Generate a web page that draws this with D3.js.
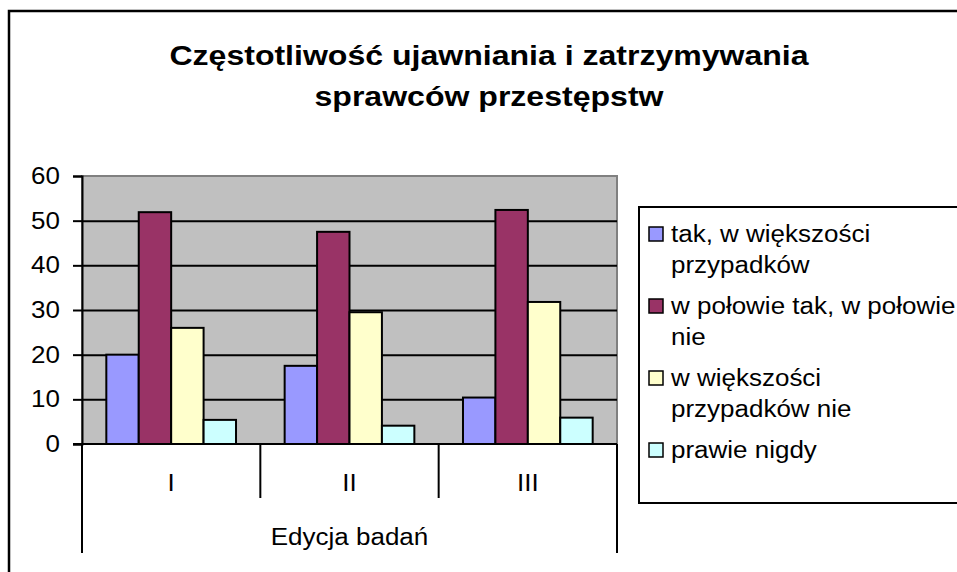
<!DOCTYPE html>
<html lang="pl">
<head>
<meta charset="utf-8">
<title>Częstotliwość ujawniania i zatrzymywania sprawców przestępstw</title>
<script src="https://d3js.org/d3.v7.min.js"></script>
<style>
  html, body { margin: 0; padding: 0; background: #fff; }
  svg { display: block; font-family: "Liberation Sans", Arial, sans-serif; }
</style>
</head>
<body>
<div id="chart"></div>
<script>
// data
var categories = ["I", "II", "III"];
var seriesNames = ["tak, w większości przypadków", "w połowie tak, w połowie nie",
                   "w większości przypadków nie", "prawie nigdy"];
var legendLines = [["tak, w większości", "przypadków"], ["w połowie tak, w połowie", "nie"],
                   ["w większości", "przypadków nie"], ["prawie nigdy"]];
var takValues = [20, 17.5, 10.4];
var polowaValues = [51.9, 47.5, 52.4];
var nieValues = [26, 29.5, 31.8];
var nigdyValues = [5.4, 4.1, 5.9];
var yTicks = [0, 10, 20, 30, 40, 50, 60];
var axisTitle = "Edycja badań";
var titleLines = ["Częstotliwość ujawniania i zatrzymywania", "sprawców przestępstw"];

var colors = ["#9999FF", "#993366", "#FFFFCC", "#CCFFFF"];
var allValues = [takValues, polowaValues, nieValues, nigdyValues];

var W = 957, H = 572;
var plot = {left: 82, right: 617, top: 176, bottom: 444};
var fs = 23, sx = 1.13;          // text in the picture is a bit wider than plain Arial
var titleFs = 28, titleSx = 1.145;

var svg = d3.select("#chart").append("svg")
  .attr("width", W).attr("height", H);

// helper: horizontally stretched text
function stext(parent, x, y, str, anchor, size, weight, s) {
  var g = parent.append("g").attr("transform", "translate(" + x + "," + y + ") scale(" + s + ",1)");
  g.append("text")
    .attr("text-anchor", anchor)
    .attr("dy", "0.35em")
    .style("font-size", size + "px")
    .style("font-weight", weight || "normal")
    .attr("fill", "#000")
    .text(str);
  return g;
}

// outer frame (only top and left are in view)
svg.append("path")
  .attr("d", "M9," + H + " V11 H" + W)
  .attr("fill", "none").attr("stroke", "#000").attr("stroke-width", 2.5);

// title
stext(svg, 489, 55, titleLines[0], "middle", titleFs, "bold", titleSx);
stext(svg, 489, 96, titleLines[1], "middle", titleFs, "bold", titleSx);

// scales
var x0 = d3.scaleBand().domain(categories).range([plot.left, plot.right]);
var gap = x0.bandwidth() * 1.5 / 5.5;
var x1 = d3.scaleBand().domain(d3.range(seriesNames.length))
  .range([gap / 2, x0.bandwidth() - gap / 2]);
var y = d3.scaleLinear().domain([0, 60]).range([plot.bottom, plot.top]);

// plot background
svg.append("rect")
  .attr("x", plot.left).attr("y", plot.top)
  .attr("width", plot.right - plot.left).attr("height", plot.bottom - plot.top)
  .attr("fill", "#C0C0C0").attr("stroke", "#808080").attr("stroke-width", 2);

// gridlines
svg.append("g")
  .attr("transform", "translate(" + plot.left + ",0)")
  .call(d3.axisLeft(y).tickValues(yTicks.slice(1, -1)).tickSize(-(plot.right - plot.left)).tickFormat(""))
  .call(function(g) {
    g.select(".domain").remove();
    g.selectAll("line").attr("stroke", "#000").attr("stroke-width", 2);
  });

// bars
var groups = svg.append("g").selectAll("g")
  .data(categories)
  .join("g")
  .attr("transform", function(d) { return "translate(" + x0(d) + ",0)"; });

groups.selectAll("rect")
  .data(function(d, i) { return allValues.map(function(vals, s) { return {s: s, v: vals[i]}; }); })
  .join("rect")
  .attr("x", function(d) { return x1(d.s); })
  .attr("y", function(d) { return y(d.v); })
  .attr("width", x1.bandwidth())
  .attr("height", function(d) { return y(0) - y(d.v); })
  .attr("fill", function(d) { return colors[d.s]; })
  .attr("stroke", "#000").attr("stroke-width", 2);

// y axis
var yAxis = svg.append("g")
  .attr("transform", "translate(" + plot.left + ",0)")
  .call(d3.axisLeft(y).tickValues(yTicks).tickSize(9).tickPadding(13));
yAxis.select(".domain").attr("stroke", "#000").attr("stroke-width", 2);
yAxis.selectAll("line").attr("stroke", "#000").attr("stroke-width", 2);
yAxis.selectAll("text")
  .style("font-size", fs + "px").attr("fill", "#000")
  .attr("x", -22 / sx)
  .attr("transform", "scale(" + sx + ",1)");

// x axis line and category separators
var xa = svg.append("g");
xa.append("line")
  .attr("x1", plot.left - 9).attr("x2", plot.right)
  .attr("y1", y(0)).attr("y2", y(0))
  .attr("stroke", "#000").attr("stroke-width", 2);
var edges = categories.map(function(c) { return x0(c); }).concat([plot.right]);
xa.selectAll("line.sep")
  .data(edges)
  .join("line")
  .attr("class", "sep")
  .attr("x1", function(d) { return d; }).attr("x2", function(d) { return d; })
  .attr("y1", y(0))
  .attr("y2", function(d, i) { return (i === 0 || i === edges.length - 1) ? 553 : 498; })
  .attr("stroke", "#000").attr("stroke-width", 2);
categories.forEach(function(c) {
  stext(xa, x0(c) + x0.bandwidth() / 2, 483, c, "middle", fs, "normal", sx);
});
stext(xa, (plot.left + plot.right) / 2, 537, axisTitle, "middle", fs, "normal", sx);

// legend
var lg = svg.append("g");
lg.append("rect")
  .attr("x", 639).attr("y", 207).attr("width", 340).attr("height", 296)
  .attr("fill", "#fff").attr("stroke", "#000").attr("stroke-width", 2);
legendLines.forEach(function(lines, i) {
  var cy = 234 + i * 72;
  lg.append("rect")
    .attr("x", 649).attr("y", cy - 7).attr("width", 14).attr("height", 14)
    .attr("fill", colors[i]).attr("stroke", "#000").attr("stroke-width", 1.5);
  lines.forEach(function(t, j) {
    stext(lg, 671, cy + j * 31, t, "start", fs, "normal", sx);
  });
});
</script>
</body>
</html>
